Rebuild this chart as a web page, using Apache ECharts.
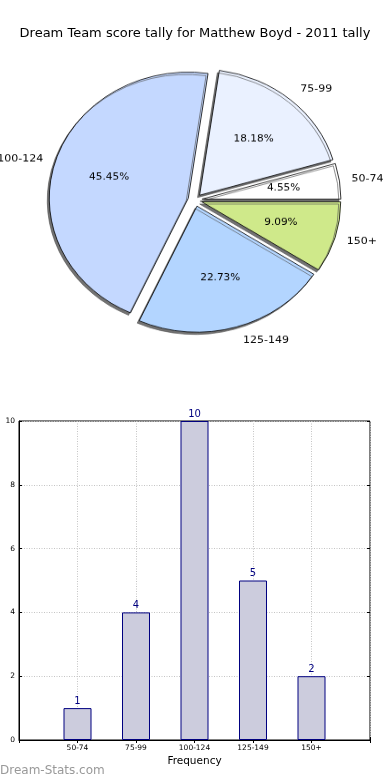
<!DOCTYPE html>
<html>
<head>
<meta charset="utf-8">
<script src="https://cdn.jsdelivr.net/npm/echarts@6/dist/echarts.min.js"></script>
<style>
html,body{margin:0;padding:0;background:#fff;}
#main{position:absolute;left:0;top:0;width:390px;height:780px;}
#pie{position:absolute;left:0;top:0;width:390px;height:440px;transform:scaleY(0.907);transform-origin:0 0;}
</style>
</head>
<body>
<div id="main"></div>
<div id="pie"></div>
<script>
const titleText = 'Dream Team score tally for Matthew Boyd - 2011 tally';
const categories = ['50-74', '75-99', '100-124', '125-149', '150+'];
const counts = [1, 4, 10, 5, 2];
const sliceColors = ['#ffffff', '#eaf1ff', '#c4d8ff', '#b3d5ff', '#cfe98a'];
const yTicks = [0, 2, 4, 6, 8, 10];
const xAxisName = 'Frequency';
const watermark = 'Dream-Stats.com';

const total = counts.reduce((a, b) => a + b, 0);
const FONT = 'DejaVu Sans';

// ---- bar chart + title ----
const main = echarts.init(document.getElementById('main'), null, {renderer: 'canvas'});
const paddedCats = [''].concat(categories, ['']);
const paddedVals = [null].concat(counts, [null]);
main.setOption({
  animation: false,
  title: {
    text: titleText, left: 'center', top: 22,
    textStyle: {fontFamily: FONT, fontSize: 13, fontWeight: 'normal', color: '#000'}
  },
  grid: {left: 19, top: 421, width: 351, height: 319, show: true, borderColor: '#000', borderWidth: 1, backgroundColor: 'transparent'},
  xAxis: [{
    type: 'category', data: paddedCats, boundaryGap: false,
    name: xAxisName, nameLocation: 'middle', nameGap: 16,
    nameTextStyle: {fontFamily: FONT, fontSize: 10.5, color: '#000'},
    axisLine: {show: true, lineStyle: {color: '#000'}},
    axisTick: {show: true, inside: true, length: 3, lineStyle: {color: '#000'}},
    axisLabel: {fontFamily: FONT, fontSize: 7.5, color: '#000', margin: 4, interval: 0},
    splitLine: {show: true, lineStyle: {color: '#c4c4c4', type: [1, 1.5]}}
  }, {
    type: 'category', data: paddedCats, boundaryGap: false, position: 'top',
    axisLine: {show: false}, axisLabel: {show: false},
    axisTick: {show: true, inside: true, length: 3, lineStyle: {color: '#000'}},
    splitLine: {show: false}
  }],
  yAxis: [{
    type: 'value', min: 0, max: 10, interval: 2,
    axisLine: {show: true, lineStyle: {color: '#000'}},
    axisTick: {show: true, inside: true, length: 3, lineStyle: {color: '#000'}},
    axisLabel: {fontFamily: FONT, fontSize: 7.5, color: '#000', margin: 4,
      formatter: v => yTicks.includes(v) ? String(v) : ''},
    splitLine: {show: true, lineStyle: {color: '#c4c4c4', type: [1, 1.5]}}
  }, {
    type: 'value', min: 0, max: 10, interval: 2, position: 'right',
    axisLine: {show: false}, axisLabel: {show: false},
    axisTick: {show: true, inside: true, length: 3, lineStyle: {color: '#000'}},
    splitLine: {show: false}
  }],
  series: [{
    type: 'bar', data: paddedVals, barWidth: 28,
    itemStyle: {color: '#ccccdd', borderColor: '#000080', borderWidth: 1},
    label: {show: true, position: 'top', distance: 2, fontFamily: FONT, fontSize: 10, color: '#000080'},
    emphasis: {disabled: true}
  }],
  graphic: [{
    type: 'text', left: 0, top: 765,
    style: {text: watermark, fontFamily: FONT, fontSize: 12, fontWeight: 'normal', fill: '#999999'}
  }]
});

// ---- pie (drawn circular, stretched to match the reference's ellipse) ----
const pie = echarts.init(document.getElementById('pie'), null, {renderer: 'canvas'});
const EXTRA = 8.5;
let cum = 0;
const pieData = categories.map((c, i) => {
  const mid = (cum + counts[i] / 2) / total * 2 * Math.PI;
  cum += counts[i];
  return {
    name: c, value: counts[i], selected: true,
    itemStyle: {color: sliceColors[i]},
    labelLine: {show: false, length: 7 + EXTRA, length2: -EXTRA * Math.abs(Math.cos(mid))}
  };
});
const pctData = categories.map((c, i) => ({name: c, value: counts[i], selected: true}));
pie.setOption({
  animation: false,
  series: [{
    type: 'pie', center: [195, 220.5], radius: 139,
    startAngle: 0, clockwise: false,
    selectedMode: 'multiple', selectedOffset: 7,
    avoidLabelOverlap: false,
    data: pieData,
    itemStyle: {borderColor: '#000', borderWidth: 0.8,
      shadowColor: 'rgba(80,80,80,0.8)', shadowBlur: 0, shadowOffsetX: -2, shadowOffsetY: 2.5},
    label: {show: true, position: 'outside', fontFamily: FONT, fontSize: 11, color: '#000',
      formatter: p => p.name},
    labelLine: {show: false, length: 7, length2: 0},
    emphasis: {disabled: true}
  }, {
    type: 'pie', center: [195, 220.5], radius: [20, 139],
    startAngle: 0, clockwise: false,
    selectedMode: 'multiple', selectedOffset: 7,
    data: pctData,
    itemStyle: {color: 'rgba(0,0,0,0)', borderWidth: 0},
    label: {show: true, position: 'inside', fontFamily: FONT, fontSize: 10.5, color: '#000',
      formatter: p => (p.value / total * 100).toFixed(2) + '%'},
    labelLine: {show: false},
    emphasis: {disabled: true},
    silent: true
  }]
});
</script>
</body>
</html>
